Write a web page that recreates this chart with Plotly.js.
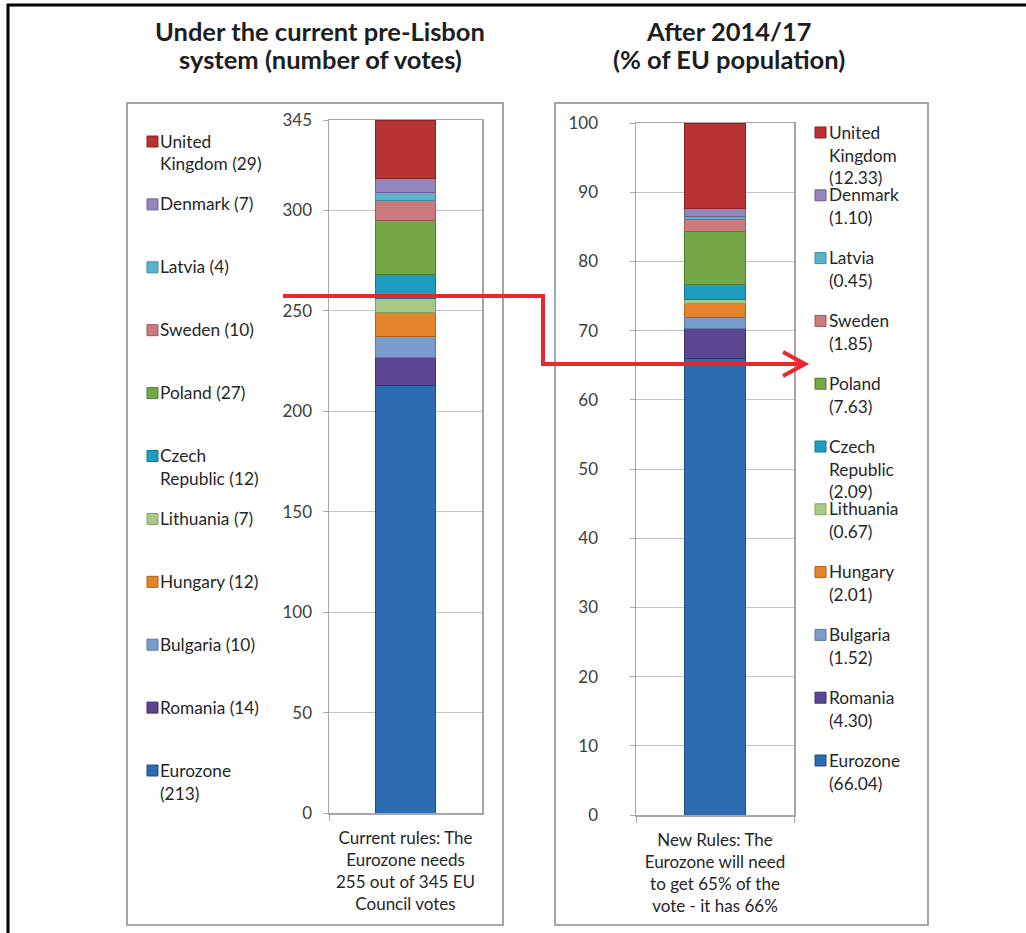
<!DOCTYPE html>
<html>
<head>
<meta charset="utf-8">
<script src="https://cdn.plot.ly/plotly-3.0.1.min.js"></script>
<style>
  html, body { margin: 0; padding: 0; background: #ffffff; }
  #chart { width: 1026px; height: 933px; }
</style>
</head>
<body>
<div id="chart"></div>
<script>
// ---------------- DATA ----------------
const countries = ["Eurozone", "Romania", "Bulgaria", "Hungary", "Lithuania",
  "Czech Republic", "Poland", "Sweden", "Latvia", "Denmark", "United Kingdom"];
const councilVotes = [213, 14, 10, 12, 7, 12, 27, 10, 4, 7, 29];
const populationShare = [66.04, 4.30, 1.52, 2.01, 0.67, 2.09, 7.63, 1.85, 0.45, 1.10, 12.33];
const seriesColors = ["#2d6cb3", "#5c4691", "#7b9dcd", "#e5832b", "#a9c989",
  "#1f9dc1", "#74a745", "#cb7a7d", "#59b3cc", "#9486bd", "#b83234"];
const seriesEdges = ["#1f4f87", "#3f2f68", "#5a78a3", "#b0601a", "#82a063",
  "#147693", "#527c2d", "#a05659", "#3d8ca2", "#6e6196", "#8a2124"];
const leftTitleLines = ["Under the current pre-Lisbon", "system (number of votes)"];
const rightTitleLines = ["After 2014/17", "(% of EU population)"];
const leftCategory = "Current rules: The<br>Eurozone needs<br>255 out of 345 EU<br>Council votes";
const rightCategory = "New Rules: The<br>Eurozone will need<br>to get 65% of the<br>vote - it has 66%";
const leftTicks = [0, 50, 100, 150, 200, 250, 300, 345];
const rightTicks = [0, 10, 20, 30, 40, 50, 60, 70, 80, 90, 100];
const leftMax = 345;
const rightMax = 100;

// ---------------- HELPERS ----------------
const W = 1026, H = 933;
const px = x => x / W;
const py = y => 1 - y / H;
const FONT = "Lato, 'Open Sans', 'DejaVu Sans', sans-serif";

function wrapLabel(text, maxLen) {
  const words = text.split(" ");
  const lines = [];
  let cur = "";
  words.forEach(w => {
    if (cur === "") cur = w;
    else if ((cur + " " + w).length <= maxLen) cur += " " + w;
    else { lines.push(cur); cur = w; }
  });
  if (cur) lines.push(cur);
  return lines;
}

// ---------------- TRACES ----------------
const traces = [];
countries.forEach((c, i) => {
  traces.push({
    type: "bar", name: c, x: [leftCategory], y: [councilVotes[i]],
    xaxis: "x", yaxis: "y", showlegend: false,
    marker: { color: seriesColors[i], line: { color: seriesEdges[i], width: 1 } },
    hovertemplate: c + ": %{y}<extra></extra>"
  });
});
countries.forEach((c, i) => {
  traces.push({
    type: "bar", name: c, x: [rightCategory], y: [populationShare[i]],
    xaxis: "x2", yaxis: "y2", showlegend: false,
    marker: { color: seriesColors[i], line: { color: seriesEdges[i], width: 1 } },
    hovertemplate: c + ": %{y:.2f}%<extra></extra>"
  });
});

// ---------------- LAYOUT PIECES ----------------
const shapes = [];
const annotations = [];

// outer frame
shapes.push({ type: "path", xref: "paper", yref: "paper",
  path: `M ${px(8)},${py(940)} L ${px(8)},${py(5)} L ${px(1040)},${py(5)}`,
  line: { color: "#000000", width: 3 } });
// panel boxes
shapes.push({ type: "rect", xref: "paper", yref: "paper",
  x0: px(127), x1: px(503), y0: py(925), y1: py(103),
  line: { color: "#a6a6a6", width: 2 } });
shapes.push({ type: "rect", xref: "paper", yref: "paper",
  x0: px(555), x1: px(928), y0: py(925), y1: py(103),
  line: { color: "#a6a6a6", width: 2 } });

// titles
function addTitle(lines, cx) {
  lines.forEach((ln, j) => {
    annotations.push({ xref: "paper", yref: "paper", x: px(cx), y: py(31 + j * 28),
      xanchor: "center", yanchor: "middle", showarrow: false, text: "<b>" + ln + "</b>",
      font: { family: FONT, size: 25.5, color: "#1e1e1e" } });
  });
}
addTitle(leftTitleLines, 320);
addTitle(rightTitleLines, 729);

// legends (top item = last series)
function buildLegend(values, fmt, maxLen, markerX, textX, firstY, pitch) {
  const n = countries.length;
  for (let k = 0; k < n; k++) {
    const i = n - 1 - k;
    const yc = firstY + k * pitch;
    const lines = wrapLabel(countries[i] + " (" + fmt(values[i]) + ")", maxLen);
    shapes.push({ type: "rect", xref: "paper", yref: "paper",
      x0: px(markerX), x1: px(markerX + 11), y0: py(yc + 6), y1: py(yc - 5),
      fillcolor: seriesColors[i], line: { color: seriesEdges[i], width: 1 } });
    lines.forEach((ln, j) => {
      annotations.push({ xref: "paper", yref: "paper", x: px(textX), y: py(yc + j * 23),
        xanchor: "left", yanchor: "middle", showarrow: false, text: ln, borderpad: 0,
        font: { family: FONT, size: 17.3, color: "#262626" } });
    });
  }
}
buildLegend(councilVotes, v => String(v), 13, 147, 159, 141, 62.9);
buildLegend(populationShare, v => v.toFixed(2), 10, 815, 828, 132, 62.8);

// red arrow
const arrowColor = "#e8282b";
shapes.push({ type: "path", xref: "paper", yref: "paper",
  path: `M ${px(283)},${py(296)} L ${px(543)},${py(296)} L ${px(543)},${py(364)} L ${px(803)},${py(364)}`,
  line: { color: arrowColor, width: 4 } });
shapes.push({ type: "path", xref: "paper", yref: "paper",
  path: `M ${px(783)},${py(352)} L ${px(805)},${py(364)} L ${px(783)},${py(376)}`,
  line: { color: arrowColor, width: 4 } });

const axisFont = { family: FONT, size: 17, color: "#404040" };
const baseX = {
  type: "category", showline: true, linecolor: "#a6a6a6", linewidth: 1.5, mirror: true,
  ticks: "outside", tickson: "boundaries", ticklen: 6, tickcolor: "#a6a6a6",
  showgrid: false, fixedrange: true, tickfont: { family: FONT, size: 17, color: "#262626" },
  ticklabelstandoff: 9
};
const baseY = {
  showline: true, linecolor: "#a6a6a6", linewidth: 1.5, mirror: true,
  ticks: "outside", ticklen: 5, tickcolor: "#a6a6a6",
  showgrid: true, gridcolor: "#c4c4c4", gridwidth: 1, zeroline: false,
  tickfont: axisFont, fixedrange: true
};

const layout = {
  width: W, height: H,
  margin: { l: 0, r: 0, t: 0, b: 0 },
  paper_bgcolor: "#ffffff", plot_bgcolor: "#ffffff",
  barmode: "stack", bargap: 0.61,
  showlegend: false,
  font: { family: FONT },
  xaxis: Object.assign({}, baseX, { domain: [px(329), px(482)], anchor: "y" }),
  yaxis: Object.assign({}, baseY, { domain: [py(813), py(120)], anchor: "x",
    range: [0, leftMax], tickmode: "array", tickvals: leftTicks, ticklabelstandoff: 7 }),
  xaxis2: Object.assign({}, baseX, { domain: [px(636), px(794)], anchor: "y2" }),
  yaxis2: Object.assign({}, baseY, { domain: [py(815), py(123)], anchor: "x2",
    range: [0, rightMax], tickmode: "array", tickvals: rightTicks, ticklabelstandoff: 28 }),
  shapes: shapes,
  annotations: annotations
};

Plotly.newPlot("chart", traces, layout, { displayModeBar: false, staticPlot: true });
</script>
</body>
</html>
